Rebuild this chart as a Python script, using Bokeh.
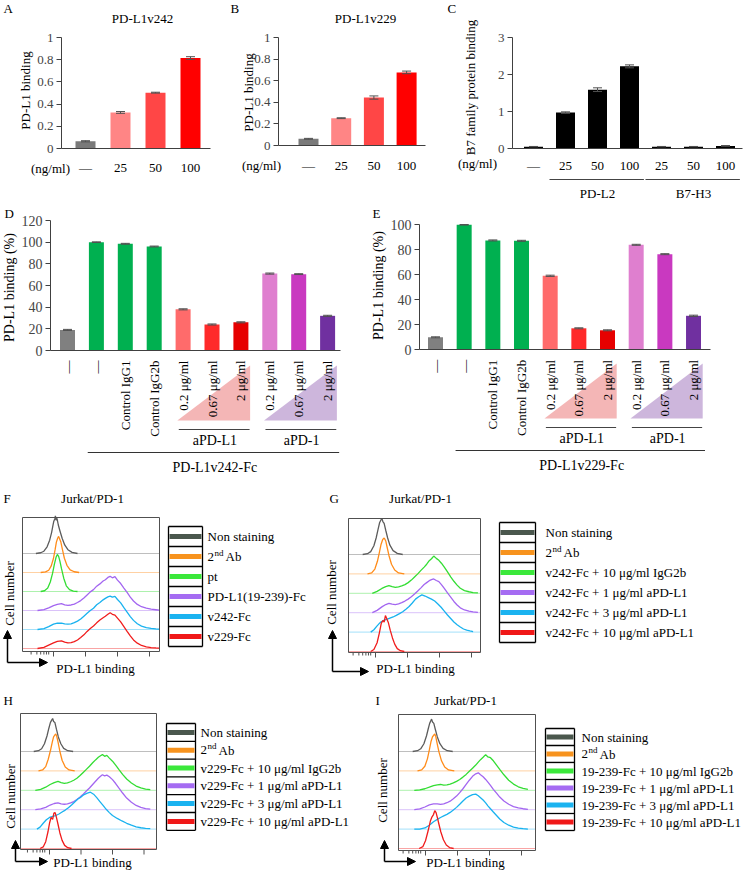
import math
from bokeh.plotting import figure
from bokeh.models import Range1d, LinearAxis, FixedTicker, Arrow, NormalHead
from bokeh.layouts import row, column
from bokeh.embed import file_html
from bokeh.resources import INLINE
from bokeh.core.properties import value

FONT = "Liberation Serif"

# ---------------- data: panels A-C ----------------
A_labels = ["—", "25", "50", "100"]
A_values = [0.065, 0.325, 0.503, 0.815]
A_errors = [0.005, 0.008, 0.004, 0.012]
B_labels = ["—", "25", "50", "100"]
B_values = [0.062, 0.253, 0.444, 0.677]
B_errors = [0.004, 0.004, 0.015, 0.012]
AB_colors = ["#7a7a7a", "#ff8585", "#ff4646", "#ff0000"]
C_labels = ["—", "25", "50", "100", "25", "50", "100"]
C_values = [0.05, 0.97, 1.59, 2.22, 0.05, 0.05, 0.07]
C_errors = [0.005, 0.02, 0.05, 0.04, 0.005, 0.005, 0.01]
C_groups = ["PD-L2", "B7-H3"]
C_group_span = [(2, 4), (5, 7)]

# ---------------- data: panels D-E ----------------
DE_labels = ["—", "—", "Control IgG1", "Control IgG2b", "0.2 μg/ml", "0.67 μg/ml",
             "2 μg/ml", "0.2 μg/ml", "0.67 μg/ml", "2 μg/ml"]
D_values = [19, 100, 98.5, 96, 38, 24, 26, 71, 70.5, 32]
D_errors = [0.5, 0.3, 0.4, 0.4, 0.5, 0.5, 0.5, 0.5, 0.4, 0.5]
E_values = [10, 100, 87.5, 87.2, 59.2, 17.2, 15.6, 84, 76.5, 27.2]
E_errors = [0.4, 0.2, 0.4, 0.4, 0.5, 0.4, 0.4, 0.4, 0.4, 0.5]
DE_colors = ["#808080", "#00b050", "#00b050", "#00b050", "#ff6b6b", "#ff2a2a",
             "#e60000", "#df7fcf", "#c939c0", "#7030a0"]
DE_groups = ["aPD-L1", "aPD-1"]
DE_group_span = [(5, 7), (8, 10)]
DE_tri_colors = ["#f4b6b6", "#cdb6dc"]
D_bracket = "PD-L1v242-Fc"
E_bracket = "PD-L1v229-Fc"
DE_bracket_span = (2, 10)

# ---------------- data: histograms F-I (x = log10 intensity, y = relative count) ----------------
H_COLORS = ["#5c5c5c", "#ff8c1a", "#33dd33", "#a366f0", "#19b2ef", "#f01c1c"]
LEG_COLORS = ["#4a574d", "#f7931e", "#3be83b", "#a56cf2", "#1bb3f0", "#f01818"]

F_gray_x = [0.45, 0.6, 0.7, 0.8, 0.88, 0.94, 0.98, 1.01, 1.04, 1.06, 1.08, 1.11, 1.15, 1.2, 1.27, 1.35, 1.45, 1.58, 1.75]
F_gray_h = [0, 0.04, 0.12, 0.35, 0.7, 1.1, 1.45, 1.7, 1.82, 1.98, 1.75, 1.85, 1.5, 1.2, 0.8, 0.45, 0.2, 0.06, 0]
F_orange_x = [0.6, 0.75, 0.85, 0.93, 1.0, 1.05, 1.09, 1.13, 1.16, 1.19, 1.23, 1.28, 1.34, 1.42, 1.52, 1.65, 1.8]
F_orange_h = [0, 0.03, 0.12, 0.35, 0.75, 1.2, 1.6, 1.8, 1.9, 1.78, 1.6, 1.2, 0.75, 0.38, 0.14, 0.04, 0]
F_green_x = [0.6, 0.72, 0.82, 0.9, 0.97, 1.03, 1.08, 1.12, 1.16, 1.2, 1.25, 1.32, 1.4, 1.5, 1.62, 1.75]
F_green_h = [0, 0.04, 0.18, 0.5, 0.95, 1.45, 1.8, 1.95, 1.85, 1.6, 1.2, 0.7, 0.3, 0.1, 0.02, 0]
F_bi_x = [0.5, 0.7, 0.85, 1.0, 1.12, 1.25, 1.35, 1.45, 1.55, 1.65, 1.75, 1.85, 1.95, 2.05, 2.15, 2.25, 2.35, 2.45,
          2.55, 2.62, 2.7, 2.77, 2.84, 2.92, 3.0, 3.1, 3.2, 3.3, 3.4, 3.5, 3.62, 3.75, 3.9, 4.05, 4.2, 4.3]
F_purple_h = [0, 0.05, 0.14, 0.26, 0.32, 0.36, 0.3, 0.27, 0.29, 0.34, 0.42, 0.52, 0.66, 0.82, 0.98, 1.1, 1.28, 1.4,
              1.55, 1.62, 1.74, 1.8, 1.72, 1.78, 1.6, 1.42, 1.18, 0.95, 0.7, 0.5, 0.32, 0.2, 0.12, 0.07, 0.04, 0.02]
F_blue_h = [0, 0.05, 0.15, 0.28, 0.33, 0.34, 0.3, 0.28, 0.3, 0.36, 0.44, 0.55, 0.7, 0.85, 1.0, 1.12, 1.3, 1.42,
            1.56, 1.64, 1.72, 1.76, 1.7, 1.74, 1.58, 1.4, 1.15, 0.92, 0.68, 0.48, 0.3, 0.18, 0.1, 0.06, 0.03, 0.02]
F_red_h = [0, 0.06, 0.18, 0.3, 0.38, 0.4, 0.34, 0.3, 0.31, 0.36, 0.45, 0.58, 0.72, 0.9, 1.05, 1.18, 1.35, 1.5,
           1.62, 1.7, 1.8, 1.88, 1.8, 1.76, 1.6, 1.4, 1.15, 0.9, 0.66, 0.45, 0.28, 0.16, 0.09, 0.05, 0.03, 0.02]

G_gray_x = [0.6, 0.75, 0.85, 0.95, 1.02, 1.08, 1.13, 1.17, 1.2, 1.23, 1.27, 1.32, 1.38, 1.45, 1.55, 1.68, 1.85]
G_gray_h = [0, 0.04, 0.15, 0.45, 0.85, 1.3, 1.65, 1.78, 1.86, 1.7, 1.6, 1.25, 0.85, 0.48, 0.2, 0.06, 0]
G_orange_x = [0.75, 0.88, 0.98, 1.06, 1.12, 1.17, 1.22, 1.26, 1.29, 1.32, 1.36, 1.42, 1.5, 1.6, 1.72, 1.9]
G_orange_h = [0, 0.05, 0.25, 0.65, 1.1, 1.5, 1.75, 1.85, 1.8, 1.7, 1.4, 0.95, 0.5, 0.2, 0.05, 0]
G_bi_x = [0.9, 1.05, 1.2, 1.32, 1.42, 1.52, 1.62, 1.72, 1.82, 1.92, 2.02, 2.12, 2.22, 2.32, 2.42, 2.52, 2.6,
          2.68, 2.75, 2.82, 2.9, 2.98, 3.06, 3.15, 3.25, 3.35, 3.45, 3.55, 3.65, 3.78, 3.92, 4.05, 4.2]
G_green_h = [0, 0.1, 0.25, 0.34, 0.4, 0.34, 0.3, 0.33, 0.38, 0.45, 0.55, 0.68, 0.84, 1.0, 1.18, 1.35, 1.5,
             1.68, 1.78, 1.92, 1.8, 1.7, 1.55, 1.35, 1.1, 0.85, 0.62, 0.42, 0.26, 0.14, 0.08, 0.04, 0.02]
G_purple_h = [0, 0.12, 0.3, 0.42, 0.48, 0.44, 0.42, 0.46, 0.52, 0.6, 0.7, 0.82, 0.96, 1.12, 1.28, 1.45, 1.55,
              1.65, 1.7, 1.74, 1.66, 1.6, 1.45, 1.25, 1.02, 0.8, 0.58, 0.4, 0.25, 0.14, 0.08, 0.04, 0.02]
G_blue_x = [0.85, 0.95, 1.05, 1.15, 1.25, 1.35, 1.45, 1.55, 1.65, 1.75, 1.85, 1.95, 2.05, 2.15, 2.25, 2.35, 2.45,
            2.55, 2.65, 2.75, 2.85, 2.95, 3.05, 3.15, 3.25, 3.35, 3.45, 3.55, 3.65, 3.75, 3.85, 3.95, 4.05]
G_blue_h = [0, 0.12, 0.32, 0.5, 0.6, 0.66, 0.72, 0.78, 0.86, 0.95, 1.05, 1.18, 1.32, 1.5, 1.7, 1.82, 1.92,
            1.86, 1.78, 1.7, 1.6, 1.45, 1.28, 1.08, 0.88, 0.7, 0.52, 0.38, 0.26, 0.16, 0.1, 0.06, 0.03]
G_red_x = [0.85, 0.95, 1.05, 1.12, 1.18, 1.23, 1.27, 1.31, 1.35, 1.4, 1.46, 1.53, 1.6, 1.68, 1.78, 1.9]
G_red_h = [0, 0.1, 0.45, 0.95, 1.45, 1.6, 1.52, 1.85, 1.7, 1.5, 1.1, 0.7, 0.38, 0.15, 0.04, 0]

H_gray_x = [0.5, 0.65, 0.75, 0.84, 0.92, 0.98, 1.03, 1.07, 1.1, 1.13, 1.17, 1.22, 1.28, 1.36, 1.45, 1.58, 1.75]
H_gray_h = [0, 0.04, 0.14, 0.4, 0.8, 1.2, 1.5, 1.62, 1.7, 1.55, 1.5, 1.15, 0.75, 0.4, 0.16, 0.04, 0]
H_orange_x = [0.65, 0.78, 0.88, 0.96, 1.03, 1.09, 1.13, 1.17, 1.2, 1.23, 1.27, 1.33, 1.4, 1.5, 1.62, 1.8]
H_orange_h = [0, 0.05, 0.22, 0.6, 1.05, 1.5, 1.75, 1.85, 1.9, 1.78, 1.5, 1.0, 0.55, 0.2, 0.05, 0]
H_bi_x = [0.55, 0.72, 0.88, 1.02, 1.15, 1.27, 1.37, 1.47, 1.57, 1.67, 1.77, 1.87, 1.97, 2.07, 2.17, 2.27, 2.37,
          2.47, 2.55, 2.62, 2.68, 2.75, 2.82, 2.9, 3.0, 3.1, 3.2, 3.32, 3.45, 3.6, 3.75, 3.9, 4.05, 4.2]
H_green_h = [0, 0.05, 0.16, 0.3, 0.4, 0.46, 0.4, 0.36, 0.38, 0.44, 0.52, 0.62, 0.76, 0.92, 1.08, 1.24, 1.42,
             1.58, 1.7, 1.78, 1.84, 1.75, 1.8, 1.66, 1.5, 1.3, 1.08, 0.82, 0.58, 0.38, 0.22, 0.12, 0.06, 0.03]
H_purple_h = [0, 0.04, 0.12, 0.24, 0.32, 0.35, 0.3, 0.28, 0.3, 0.35, 0.42, 0.52, 0.65, 0.8, 0.96, 1.12, 1.3,
              1.48, 1.62, 1.72, 1.8, 1.74, 1.78, 1.7, 1.55, 1.35, 1.12, 0.86, 0.6, 0.38, 0.22, 0.12, 0.06, 0.03]
H_blue_x = [0.6, 0.7, 0.8, 0.9, 1.0, 1.1, 1.2, 1.3, 1.4, 1.5, 1.6, 1.7, 1.8, 1.9, 2.0, 2.1, 2.2, 2.3, 2.4, 2.5,
            2.6, 2.7, 2.8, 2.9, 3.0, 3.15, 3.3, 3.45, 3.6, 3.75, 3.9, 4.05, 4.2]
H_blue_h = [0, 0.1, 0.3, 0.48, 0.6, 0.66, 0.7, 0.78, 0.88, 0.98, 1.1, 1.24, 1.4, 1.55, 1.65, 1.78, 1.85, 1.9,
            1.8, 1.62, 1.42, 1.22, 1.02, 0.85, 0.7, 0.55, 0.42, 0.3, 0.2, 0.12, 0.07, 0.04, 0.02]
H_red_x = [0.7, 0.8, 0.88, 0.95, 1.0, 1.05, 1.1, 1.14, 1.18, 1.22, 1.27, 1.33, 1.4, 1.48, 1.58, 1.7]
H_red_h = [0, 0.08, 0.35, 0.85, 1.3, 1.6, 1.5, 1.82, 1.85, 1.6, 1.25, 0.8, 0.42, 0.16, 0.04, 0]

I_gray_x = [0.6, 0.75, 0.85, 0.95, 1.03, 1.09, 1.13, 1.17, 1.19, 1.22, 1.26, 1.31, 1.37, 1.45, 1.55, 1.68, 1.85]
I_gray_h = [0, 0.04, 0.14, 0.4, 0.8, 1.2, 1.45, 1.6, 1.67, 1.52, 1.45, 1.12, 0.75, 0.4, 0.16, 0.04, 0]
I_orange_x = [0.75, 0.88, 0.98, 1.06, 1.12, 1.17, 1.22, 1.26, 1.29, 1.32, 1.36, 1.42, 1.5, 1.6, 1.72, 1.9]
I_orange_h = [0, 0.05, 0.24, 0.62, 1.08, 1.5, 1.76, 1.85, 1.9, 1.78, 1.45, 0.98, 0.52, 0.2, 0.05, 0]
I_bi_x = [0.65, 0.82, 0.98, 1.12, 1.25, 1.37, 1.47, 1.57, 1.67, 1.77, 1.87, 1.97, 2.07, 2.17, 2.27, 2.37, 2.47,
          2.57, 2.65, 2.72, 2.8, 2.88, 2.95, 3.03, 3.12, 3.22, 3.32, 3.45, 3.6, 3.75, 3.9, 4.05, 4.2]
I_green_h = [0, 0.02, 0.08, 0.16, 0.24, 0.28, 0.3, 0.27, 0.28, 0.32, 0.38, 0.46, 0.56, 0.68, 0.82, 0.98, 1.14,
             1.3, 1.45, 1.58, 1.7, 1.84, 1.72, 1.68, 1.52, 1.3, 1.08, 0.8, 0.52, 0.32, 0.18, 0.1, 0.05]
I_purple_h = [0, 0.04, 0.14, 0.25, 0.3, 0.3, 0.27, 0.3, 0.36, 0.44, 0.56, 0.7, 0.88, 1.08, 1.3, 1.52, 1.72,
              1.85, 1.9, 1.8, 1.7, 1.56, 1.42, 1.25, 1.05, 0.85, 0.65, 0.45, 0.28, 0.16, 0.09, 0.05, 0.02]
I_blue_h = [0, 0, 0.06, 0.2, 0.38, 0.5, 0.6, 0.68, 0.76, 0.86, 0.98, 1.12, 1.28, 1.45, 1.6, 1.7, 1.78,
            1.8, 1.72, 1.62, 1.5, 1.35, 1.2, 1.05, 0.88, 0.7, 0.52, 0.34, 0.2, 0.1, 0.05, 0.02, 0]
I_red_x = [0.8, 0.92, 1.0, 1.08, 1.15, 1.2, 1.25, 1.29, 1.33, 1.37, 1.42, 1.48, 1.56, 1.65, 1.75, 1.88]
I_red_h = [0, 0.1, 0.4, 0.9, 1.4, 1.62, 1.75, 1.95, 1.85, 1.6, 1.25, 0.85, 0.45, 0.18, 0.05, 0]

F_legend = ["Non staining", "2nd Ab", "pt", "PD-L1(19-239)-Fc", "v242-Fc", "v229-Fc"]
G_legend = ["Non staining", "2nd Ab", "v242-Fc + 10 μg/ml IgG2b", "v242-Fc + 1 μg/ml aPD-L1",
            "v242-Fc + 3 μg/ml  aPD-L1", "v242-Fc + 10 μg/ml  aPD-L1"]
H_legend = ["Non staining", "2nd Ab", "v229-Fc + 10 μg/ml IgG2b", "v229-Fc + 1 μg/ml aPD-L1",
            "v229-Fc + 3 μg/ml  aPD-L1", "v229-Fc + 10 μg/ml aPD-L1"]
I_legend = ["Non staining", "2nd Ab", "19-239-Fc + 10 μg/ml IgG2b", "19-239-Fc + 1 μg/ml aPD-L1",
            "19-239-Fc + 3 μg/ml aPD-L1", "19-239-Fc + 10 μg/ml aPD-L1"]
HIST_MAJOR = [1, 2, 3, 4]
HIST_MINOR = [0.3, 0.48, 0.6, 0.7, 0.78, 0.85]


# ---------------- helpers ----------------
def make_fig(bx, by, w, h, cx, ux, ay, uy):
    """Figure whose frame covers a box of the page; (cx, ay) is where data (1, 0) sits."""
    ox = cx - bx
    oy = ay - by
    p = figure(width=w, height=h, title=None,
               x_range=Range1d(1 - ox / ux, 1 + (w - ox) / ux),
               y_range=Range1d(-(h - oy) / uy, oy / uy),
               output_backend="svg", toolbar_location=None,
               x_axis_location=None, y_axis_location=None,
               min_border=0, outline_line_color=None,
               background_fill_color="white", border_fill_color="white")
    p.grid.visible = False
    X = lambda rx: 1 + (rx - cx) / ux
    Y = lambda ry: (ay - ry) / uy
    return p, X, Y


def txt(p, x, y, s, size="13px", align="center", baseline="middle", angle=0.0, xo=0, yo=0):
    p.text(x=[x], y=[y], text=[s], text_font=value(FONT), text_font_size=size,
           text_align=align, text_baseline=baseline, angle=angle, text_color="black",
           x_offset=xo, y_offset=yo)


def bar_fig(box, mapping, values, errors, colors, labels, bar_w_px, yticks, ytop,
            axis_rx, xend_rx, tick_size, label_size, standoff, vertical=False):
    bx, by, w, h = box
    cx, ux, ay, uy = mapping
    p, X, Y = make_fig(bx, by, w, h, cx, ux, ay, uy)
    n = len(values)
    xs = list(range(1, n + 1))
    p.vbar(x=xs, top=values, bottom=0, width=bar_w_px / ux, fill_color=colors, line_color=None)
    hi = [v + e for v, e in zip(values, errors)]
    lo = [v - e for v, e in zip(values, errors)]
    cap = 4.5 / ux
    p.segment(x0=xs, y0=lo, x1=xs, y1=hi, line_color="#505050", line_width=1)
    p.segment(x0=[x - cap for x in xs], y0=hi, x1=[x + cap for x in xs], y1=hi, line_color="#505050", line_width=1)
    p.segment(x0=[x - cap for x in xs], y0=lo, x1=[x + cap for x in xs], y1=lo, line_color="#505050", line_width=1)
    yax = LinearAxis(fixed_location=X(axis_rx), bounds=(0, ytop), ticker=FixedTicker(ticks=yticks),
                     major_label_overrides={t: f"{t:g}" for t in yticks},
                     axis_line_color="#404040", major_tick_line_color="#404040",
                     major_tick_out=5, major_tick_in=0, minor_tick_line_color=None,
                     major_label_text_font=FONT, major_label_text_font_size=tick_size,
                     major_label_standoff=3)
    p.add_layout(yax, "left")
    xax = LinearAxis(fixed_location=0, bounds=(X(axis_rx), X(xend_rx)), ticker=FixedTicker(ticks=xs),
                     major_label_overrides={i: lab for i, lab in zip(xs, labels)},
                     axis_line_color="#404040", major_tick_line_color=None,
                     major_tick_out=0, major_tick_in=0, minor_tick_line_color=None,
                     major_label_text_font=FONT, major_label_text_font_size=label_size,
                     major_label_text_color="black", major_label_standoff=standoff)
    if vertical:
        xax.major_label_orientation = math.pi / 2
    p.add_layout(xax, "below")
    return p, X, Y


def hist_fig(box, mapping, hbox, curves, legend, labels, letter, title, arrows, xlabel_pos, ylabel_pos):
    bx, by, w, h = box
    cx, ux, ay, uy = mapping
    p, X, Y = make_fig(bx, by, w, h, cx, ux, ay, uy)
    bl, br, bt, bb = hbox
    # curves, from top (offset 5) to bottom (offset 0)
    for k, (xs, hs) in enumerate(curves):
        off = 5 - k
        p.line(x=[X(bl), X(br)], y=[off, off], line_color=H_COLORS[k], line_alpha=0.4, line_width=1)
        p.line(x=xs, y=[v + off for v in hs], line_color=H_COLORS[k], line_width=1.3)
    p.quad(left=[X(bl)], right=[X(br)], top=[Y(bt)], bottom=[Y(bb)], fill_color=None,
           line_color="#505050", line_width=1)
    y0 = Y(bb)
    p.segment(x0=HIST_MAJOR, y0=[y0] * 4, x1=HIST_MAJOR, y1=[Y(bb + 5)] * 4, line_color="#505050")
    p.segment(x0=HIST_MINOR, y0=[y0] * len(HIST_MINOR), x1=HIST_MINOR,
              y1=[Y(bb + 3)] * len(HIST_MINOR), line_color="#505050")
    # legend
    ll, lr, lt, rh, tx = legend
    n = len(labels)
    ys = [Y(lt + k * rh) for k in range(n + 1)]
    p.segment(x0=[X(ll)] * (n + 1), y0=ys, x1=[X(lr)] * (n + 1), y1=ys, line_color="black", line_width=1.3)
    p.segment(x0=[X(ll), X(lr)], y0=[ys[0]] * 2, x1=[X(ll), X(lr)], y1=[ys[-1]] * 2,
              line_color="black", line_width=1.3)
    cen = [lt + (k + 0.5) * rh for k in range(n)]
    p.quad(left=[X(ll + 1)] * n, right=[X(lr - 1)] * n, top=[Y(c - 2.5) for c in cen],
           bottom=[Y(c + 2.5) for c in cen], fill_color=LEG_COLORS[:n], line_color=None)
    for c, lab in zip(cen, labels):
        if lab == "2nd Ab":
            txt(p, X(tx), Y(c), "2", align="left")
            txt(p, X(tx), Y(c), "nd", size="9px", align="left", xo=7, yo=-4)
            txt(p, X(tx), Y(c), "Ab", align="left", xo=18)
        else:
            txt(p, X(tx), Y(c), lab, align="left")
    # letter and title
    if letter:
        txt(p, X(letter[0]), Y(letter[1]), letter[2], align="left")
    if title:
        txt(p, X(title[0]), Y(title[1]), title[2])
    # axis arrows
    ax, ay0, ay1, ax1 = arrows
    for (xs_, ys_, xe_, ye_) in [(ax, ay0, ax, ay1), (ax, ay0, ax1, ay0)]:
        p.add_layout(Arrow(end=NormalHead(size=8, fill_color="black", line_color="black"),
                           x_start=X(xs_), y_start=Y(ys_), x_end=X(xe_), y_end=Y(ye_),
                           line_color="black", line_width=1.5))
    txt(p, X(xlabel_pos[0]), Y(xlabel_pos[1]), "PD-L1 binding")
    txt(p, X(ylabel_pos[0]), Y(ylabel_pos[1]), "Cell number", angle=math.pi / 2)
    return p


# ---------------- panel A ----------------
pA, X, Y = bar_fig((0, 0, 240, 203), (85, 35, 148, 111), A_values, A_errors, AB_colors, A_labels,
                   20, [0, 0.2, 0.4, 0.6, 0.8, 1], 1, 61, 210, "13px", "13px", 11)
txt(pA, X(142), Y(18), "PD-L1v242")
txt(pA, X(50), Y(168), "(ng/ml)")
txt(pA, X(25), Y(90), "PD-L1 binding", angle=math.pi / 2)
txt(pA, X(3), Y(8), "A", align="left")
txt(pA, X(230), Y(8), "B", align="left")

# ---------------- panel B ----------------
pB, X, Y = bar_fig((240, 0, 205, 203), (308, 32.7, 145, 108), B_values, B_errors, AB_colors, B_labels,
                   20, [0, 0.2, 0.4, 0.6, 0.8, 1], 1, 278, 425, "13px", "13px", 12)
txt(pB, X(365), Y(18), "PD-L1v229")
txt(pB, X(261), Y(165), "(ng/ml)")
txt(pB, X(248), Y(92), "PD-L1 binding", angle=math.pi / 2)

# ---------------- panel C ----------------
pC, X, Y = bar_fig((445, 0, 299, 203), (533, 32, 148, 37), C_values, C_errors, ["#000000"] * 7, C_labels,
                   19, [0, 1, 2, 3], 3, 512, 742, "13px", "13px", 9)
txt(pC, X(477), Y(163), "(ng/ml)")
txt(pC, X(470), Y(87), "B7 family protein binding", angle=math.pi / 2)
txt(pC, X(447), Y(8), "C", align="left")
for name, (s, e) in zip(C_groups, C_group_span):
    pC.segment(x0=[s - 0.5], y0=[Y(179)], x1=[e + 0.45], y1=[Y(179)], line_color="#444444", line_width=1.2)
    txt(pC, (s + e) / 2, Y(193), name)


# ---------------- panels D / E ----------------
def de_extras(p, X, Y, letter_xy, ylab_xy, tri_bottom, tri_top, line_y, lab_y, br_y, brlab_y, bracket):
    txt(p, X(letter_xy[0]), Y(letter_xy[1]), letter_xy[2], align="left")
    txt(p, X(ylab_xy[0]), Y(ylab_xy[1]), "PD-L1 binding (%)", size="14px", angle=math.pi / 2)
    for (s, e), col, name in zip(DE_group_span, DE_tri_colors, DE_groups):
        p.patch(x=[s - 0.2, e + 0.32, e + 0.32], y=[Y(tri_bottom), Y(tri_bottom), Y(tri_top)],
                fill_color=col, line_color=None)
        p.segment(x0=[s - 0.15], y0=[Y(line_y)], x1=[e + 0.3], y1=[Y(line_y)], line_color="#444444", line_width=1.2)
        txt(p, (s + e) / 2 + 0.1, Y(lab_y), name, size="14px")
    s, e = DE_bracket_span
    p.segment(x0=[s - 0.3], y0=[Y(br_y)], x1=[e + 0.4], y1=[Y(br_y)], line_color="#333333", line_width=1.2)
    txt(p, (s + e) / 2 + 0.1, Y(brlab_y), bracket, size="14px")


pD, X, Y = bar_fig((0, 203, 370, 277), (67, 28.9, 350, 130 / 120), D_values, D_errors, DE_colors, DE_labels,
                   15, [0, 20, 40, 60, 80, 100, 120], 120, 50, 340, "14px", "13px", 10, vertical=True)
de_extras(pD, X, Y, (4, 213, "D"), (9, 287), 420, 365, 429, 440, 452, 467, D_bracket)

pE, X, Y = bar_fig((370, 203, 374, 277), (435, 28.67, 349.3, 1.25), E_values, E_errors, DE_colors, DE_labels,
                   15, [0, 20, 40, 60, 80, 100], 100, 419, 710, "14px", "13px", 10, vertical=True)
de_extras(pE, X, Y, (372, 213, "E"), (378, 285), 418, 363, 427, 438, 450, 465, E_bracket)

# ---------------- panels F-I ----------------
pF = hist_fig((0, 480, 320, 210), (53, 32, 648, 19), (22, 159, 517, 651),
              [(F_gray_x, F_gray_h), (F_orange_x, F_orange_h), (F_green_x, F_green_h),
               (F_bi_x, F_purple_h), (F_bi_x, F_blue_h), (F_bi_x, F_red_h)],
              (168, 202, 526, 20, 207), F_legend, (3, 498, "F"), (92, 498, "Jurkat/PD-1"),
              (7, 662, 630, 47), (95, 668), (9, 593))

pG = hist_fig((320, 480, 424, 210), (375, 32, 651, 19.4), (348, 480, 518, 652),
              [(G_gray_x, G_gray_h), (G_orange_x, G_orange_h), (G_bi_x, G_green_h),
               (G_bi_x, G_purple_h), (G_blue_x, G_blue_h), (G_red_x, G_red_h)],
              (499, 535, 522, 20, 545), G_legend, (329, 498, "G"), (420, 498, "Jurkat/PD-1"),
              (332, 671, 630, 368), (415, 668), (331, 592))

pH = hist_fig((0, 690, 372, 180), (49, 31.5, 848, 19.4), (20, 156, 713, 849),
              [(H_gray_x, H_gray_h), (H_orange_x, H_orange_h), (H_bi_x, H_green_h),
               (H_bi_x, H_purple_h), (H_blue_x, H_blue_h), (H_red_x, H_red_h)],
              (166, 195, 723, 17.8, 200), H_legend, (3, 700, "H"), None,
              (15, 861, 840, 47), (92, 862), (10, 796))

pI = hist_fig((372, 690, 372, 180), (425, 32, 848, 19.4), (398, 535, 714, 850),
              [(I_gray_x, I_gray_h), (I_orange_x, I_orange_h), (I_bi_x, I_green_h),
               (I_bi_x, I_purple_h), (I_bi_x, I_blue_h), (I_red_x, I_red_h)],
              (545, 574, 728, 17, 581), I_legend, (375, 700, "I"), (465, 700, "Jurkat/PD-1"),
              (384, 861, 840, 415), (465, 862), (382, 790))

layout = column(row(pA, pB, pC), row(pD, pE), row(pF, pG), row(pH, pI))
open("out.html", "w").write(file_html(layout, INLINE, title="PD-L1 binding"))
